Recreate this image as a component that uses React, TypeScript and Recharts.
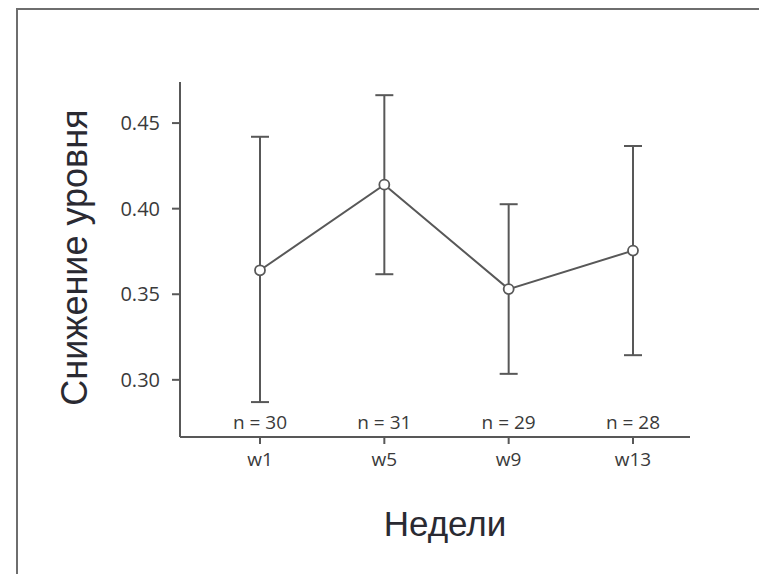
import { LineChart, Line, XAxis, YAxis, ErrorBar } from "recharts";

// weekly level drop, mean with lower / upper interval bounds
const weeks = ["w1", "w5", "w9", "w13"];
const sampleSizes = [30, 31, 29, 28];
const meanDrop = [0.364, 0.414, 0.353, 0.3755];
const lowerBound = [0.287, 0.3617, 0.3035, 0.3144];
const upperBound = [0.442, 0.4663, 0.4026, 0.4366];
const yTicks = [0.3, 0.35, 0.4, 0.45];

const data = weeks.map((week, i) => ({
  week,
  mean: meanDrop[i],
  err: [meanDrop[i] - lowerBound[i], upperBound[i] - meanDrop[i]],
}));

const INK = "#585858";
const TEXT = "#3a3a3a";
const TITLE = "#2a2a32";
const TICK_FONT = "'Open Sans', 'Noto Sans', sans-serif";
const TITLE_FONT = "'Liberation Sans', Arial, sans-serif";
const X_TICK_SIZE = 7;
const X_TICK_MARGIN = 8;

function WeekTick(props: any) {
  const { x, y, payload } = props;
  const i = weeks.indexOf(payload.value);
  const axisY = y - X_TICK_SIZE - X_TICK_MARGIN;
  return (
    <g fontFamily={TICK_FONT} fontSize={19} fill={TEXT}>
      <text x={x} y={axisY - 8} textAnchor="middle">
        n = {sampleSizes[i]}
      </text>
      <text x={x} y={y} dy="0.72em" textAnchor="middle">
        {payload.value}
      </text>
    </g>
  );
}

function YTitle(props: any) {
  const vb = props.viewBox;
  const cx = 87;
  const cy = vb.y + vb.height / 2 - 2;
  return (
    <text
      x={cx}
      y={cy}
      transform={`rotate(-90, ${cx}, ${cy})`}
      textAnchor="middle"
      fontFamily={TITLE_FONT}
      fontSize={36}
      fill={TITLE}
    >
      Снижение уровня
    </text>
  );
}

function XTitle(props: any) {
  const vb = props.viewBox;
  return (
    <text
      x={vb.x + vb.width / 2 + 10}
      y={536}
      textAnchor="middle"
      fontFamily={TITLE_FONT}
      fontSize={35}
      fill={TITLE}
    >
      Недели
    </text>
  );
}

export default function App() {
  return (
    <div
      style={{
        position: "relative",
        width: 767,
        height: 582,
        margin: -8,
        overflow: "hidden",
        background: "#fff",
      }}
    >
      <div
        style={{
          position: "absolute",
          left: 16,
          top: 8,
          width: 800,
          height: 572,
          boxSizing: "border-box",
          border: "2px solid #6e6e6e",
        }}
      />
      <div style={{ position: "absolute", left: 0, top: 0 }}>
        <LineChart
          width={767}
          height={582}
          data={data}
          margin={{ top: 82, right: 77, bottom: 85, left: 120 }}
        >
          <XAxis
            dataKey="week"
            height={60}
            padding={{ left: 80, right: 57 }}
            axisLine={{ stroke: INK, strokeWidth: 2 }}
            tickLine={{ stroke: INK, strokeWidth: 2 }}
            tickSize={X_TICK_SIZE}
            tickMargin={X_TICK_MARGIN}
            tick={<WeekTick />}
            label={{ content: (p: any) => <XTitle {...p} /> }}
          />
          <YAxis
            type="number"
            width={60}
            domain={[0.2666, 0.474]}
            allowDataOverflow
            ticks={yTicks}
            tickFormatter={(v: number) => v.toFixed(2)}
            axisLine={{ stroke: INK, strokeWidth: 2 }}
            tickLine={{ stroke: INK, strokeWidth: 2 }}
            tickSize={8}
            tickMargin={12}
            tick={{ fill: TEXT, fontSize: 20, fontFamily: TICK_FONT }}
            label={{ content: (p: any) => <YTitle {...p} /> }}
          />
          <Line
            type="linear"
            dataKey="mean"
            stroke={INK}
            strokeWidth={2}
            dot={{ r: 5, fill: "#fff", stroke: INK, strokeWidth: 1.8 }}
            activeDot={false}
            isAnimationActive={false}
          >
            <ErrorBar
              dataKey="err"
              width={9}
              stroke={INK}
              strokeWidth={2}
              direction="y"
              isAnimationActive={false}
            />
          </Line>
        </LineChart>
      </div>
    </div>
  );
}
